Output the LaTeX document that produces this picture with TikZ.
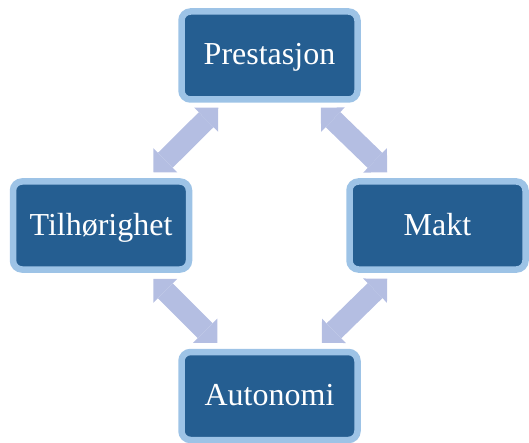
\documentclass[tikz,border=0pt]{standalone}
\usepackage{fontspec}
\setmainfont{Liberation Serif}
\usepackage{xcolor}
\usetikzlibrary{positioning, arrows.meta}

\definecolor{boxfill}{RGB}{37,94,145}
\definecolor{boxline}{RGB}{157,195,230}
\definecolor{arrowfill}{RGB}{180,190,226}

\begin{document}
\begin{tikzpicture}[x=1pt, y=1pt,
        % Define styles for the components
        block/.style={rectangle, draw=boxline, line width=6.5pt, fill=boxfill, rounded corners=9pt, text=white, text centered, text height=22pt, text depth=3pt, minimum width=176pt, minimum height=88pt, font=\fontsize{32}{36}\selectfont},
        arrow/.style={draw=arrowfill, line width=21pt, {Triangle[width=34pt,length=17pt,line width=0pt]}-{Triangle[width=34pt,length=17pt,line width=0pt]}}
    ]
    \useasboundingbox (0,0) rectangle (529,442);

    % Define nodes
    \node[block] (prestasjon) at (269.5,386.5) {Prestasjon};
    \node[block] (tilhorighet) at (101,216.5) {Tilhørighet};
    \node[block] (makt) at (437.5,216.5) {Makt};
    \node[block] (autonomi) at (269.5,46) {Autonomi};

    % Draw arrows
    \draw[arrow] ([xshift=40pt,yshift=-5pt]prestasjon.south west) -- ([xshift=-39pt,yshift=6pt]tilhorighet.north east);
    \draw[arrow] ([xshift=-40pt,yshift=-5pt]prestasjon.south east) -- ([xshift=41pt,yshift=6pt]makt.north west);
    \draw[arrow] ([xshift=-39pt,yshift=-6pt]tilhorighet.south east) -- ([xshift=39pt,yshift=6pt]autonomi.north west);
    \draw[arrow] ([xshift=41pt,yshift=-6pt]makt.south west) -- ([xshift=-39pt,yshift=6pt]autonomi.north east);
\end{tikzpicture}
\end{document}
